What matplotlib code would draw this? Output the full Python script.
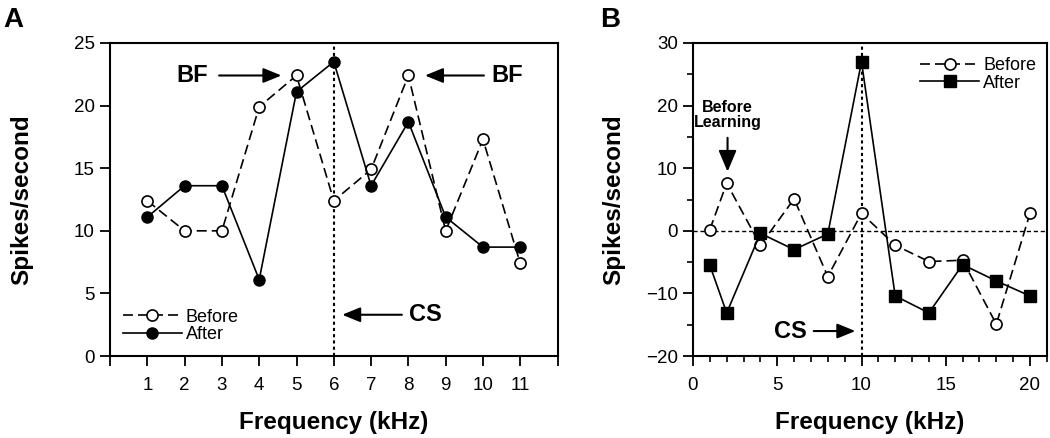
import matplotlib
matplotlib.use("Agg")
import matplotlib.pyplot as plt
from matplotlib.ticker import MultipleLocator

plt.rcParams['font.family'] = ['Liberation Sans', 'DejaVu Sans']

# panel A data
freq_a = [1, 2, 3, 4, 5, 6, 7, 8, 9, 10, 11]
before_a = [12.4, 10.0, 10.0, 19.9, 22.4, 12.4, 14.9, 22.4, 10.0, 17.3, 7.4]
after_a = [11.1, 13.6, 13.6, 6.1, 21.1, 23.5, 13.6, 18.7, 11.1, 8.7, 8.7]

# panel B data
freq_b = [1, 2, 4, 6, 8, 10, 12, 14, 16, 18, 20]
before_b = [0.2, 7.6, -2.3, 5.1, -7.3, 2.8, -2.3, -4.9, -4.7, -14.9, 2.8]
after_b = [-5.5, -13.1, -0.4, -3.0, -0.5, 27.0, -10.4, -13.1, -5.4, -8.0, -10.4]

fig = plt.figure(figsize=(10.5, 4.38), dpi=100)
axA = fig.add_axes([0.1048, 0.187, 0.4262, 0.715])
axB = fig.add_axes([0.660, 0.187, 0.337, 0.715])

dash = (0, (6, 3))
lw = 1.2

# ---- A ----
axA.axvline(6, color='black', ls=(0, (1.5, 1.5)), lw=1.5, zorder=1)
axA.plot(freq_a, before_a, ls=dash, color='black', lw=lw, marker='o', ms=8,
         mfc='white', mec='black', mew=1.2, label='Before', zorder=3)
axA.plot(freq_a, after_a, ls='-', color='black', lw=lw, marker='o', ms=8,
         mfc='black', mec='black', label='After', zorder=4)
axA.set_xlim(0, 12)
axA.set_ylim(0, 25)
axA.set_xticks(range(0, 13))
axA.set_xticklabels([''] + [str(i) for i in range(1, 12)] + [''])
axA.set_yticks(range(0, 26, 5))

bold = dict(fontsize=17, fontweight='bold')
arr = dict(arrowstyle='-|>,head_length=1.1,head_width=0.45', color='black', lw=1.5)
axA.annotate('', xy=(4.67, 22.4), xytext=(2.85, 22.4), arrowprops=arr)
axA.text(2.2, 22.4, 'BF', ha='center', va='center', **bold)
axA.annotate('', xy=(8.37, 22.4), xytext=(10.1, 22.4), arrowprops=arr)
axA.text(10.65, 22.4, 'BF', ha='center', va='center', **bold)
axA.annotate('', xy=(6.15, 3.3), xytext=(7.9, 3.3), arrowprops=arr)
axA.text(8.45, 3.3, 'CS', ha='center', va='center', **bold)

axA.legend(loc='lower left', bbox_to_anchor=(0.0, 0.0), frameon=False,
           fontsize=13, handlelength=3.3, handletextpad=0.2, labelspacing=0.05,
           borderaxespad=0.3)

# ---- B ----
axB.axhline(0, color='black', ls=(0, (3, 2)), lw=1.0, zorder=1)
axB.axvline(10, color='black', ls=(0, (1.5, 1.5)), lw=1.5, zorder=1)
axB.plot(freq_b, before_b, ls=dash, color='black', lw=lw, marker='o', ms=8,
         mfc='white', mec='black', mew=1.2, label='Before', zorder=3)
axB.plot(freq_b, after_b, ls='-', color='black', lw=lw, marker='s', ms=8.5,
         mfc='black', mec='black', label='After', zorder=4)
axB.set_xlim(0, 21)
axB.set_ylim(-20, 30)
axB.xaxis.set_major_locator(MultipleLocator(5))
axB.xaxis.set_minor_locator(MultipleLocator(1))
axB.yaxis.set_minor_locator(MultipleLocator(5))
axB.set_yticks(range(-20, 31, 10))
axB.set_yticklabels(['\u221220', '\u221210', '0', '10', '20', '30'])

axB.annotate('', xy=(2.05, 9.0), xytext=(2.05, 15.3),
             arrowprops=dict(arrowstyle='-|>,head_length=1.3,head_width=0.55',
                             color='black', lw=1.5))
axB.text(2.05, 18.5, 'Before\nLearning', ha='center', va='center',
         fontsize=11.5, fontweight='bold', linespacing=1.0)
axB.annotate('', xy=(9.8, -16.0), xytext=(7.0, -16.0), arrowprops=arr)
axB.text(5.75, -16.0, 'CS', ha='center', va='center', **bold)

axB.legend(loc='upper right', bbox_to_anchor=(1.0, 0.99), frameon=False,
           fontsize=13, handlelength=3.3, handletextpad=0.2, labelspacing=0.05,
           borderaxespad=0.2)

for ax, lx in ((axA, -0.172), (axB, -0.192)):
    for s in ax.spines.values():
        s.set_linewidth(1.5)
    ax.tick_params(which='major', direction='out', length=7, width=1.3,
                   labelsize=13.5, pad=4)
    ax.tick_params(axis='x', which='major', pad=8)
    ax.tick_params(which='minor', direction='out', length=4, width=1.2)
    ax.set_ylabel('Spikes/second', fontsize=17.5, fontweight='bold')
    ax.set_xlabel('Frequency (kHz)', fontsize=17.5, fontweight='bold')
    ax.yaxis.set_label_coords(lx, 0.5)
    ax.xaxis.set_label_coords(0.5, -0.175)

fig.text(0.003, 0.955, 'A', fontsize=20, fontweight='bold', va='center')
fig.text(0.572, 0.955, 'B', fontsize=20, fontweight='bold', va='center')

fig.savefig('out.png', dpi=100)
